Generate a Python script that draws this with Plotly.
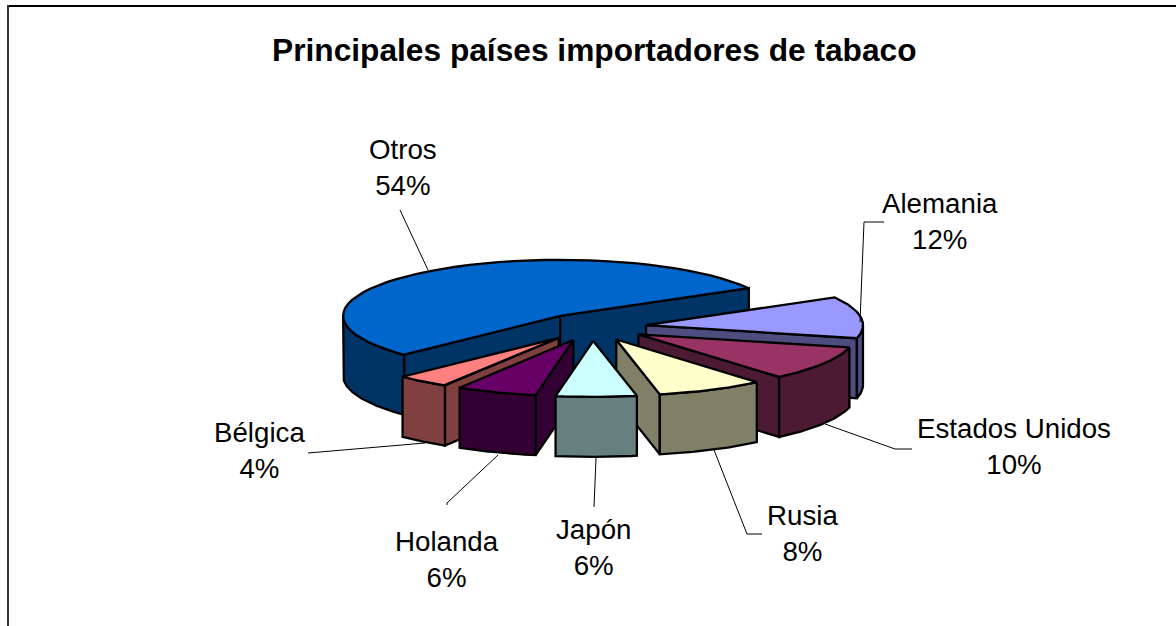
import math
import plotly.graph_objects as go

TITLE = "Principales países importadores de tabaco"
categories = ["Alemania", "Estados Unidos", "Rusia", "Japón", "Holanda", "Bélgica", "Otros"]
values = [12, 10, 8, 6, 6, 4, 54]
pct_labels = ["12%", "10%", "8%", "6%", "6%", "4%", "54%"]
top_colors = ["#9999FF", "#993366", "#FFFFCC", "#CCFFFF", "#660066", "#FF8080", "#0066CC"]
wall_colors = ["#4D4D80", "#4D1A33", "#808066", "#668080", "#330033", "#804040", "#003366"]
draw_order = ["Otros", "Alemania", "Estados Unidos", "Bélgica", "Holanda", "Rusia", "Japón"]

# chart geometry (pixels)
CX, CY = 592.5, 327
RADIUS = 217
SQUASH = 0.258
EXPLODE = 54
DEPTH = 60
START_ANGLE = 29.6

# label centres and leader lines (pixels)
label_pos = {"Alemania": (940, 221), "Estados Unidos": (1014, 446), "Rusia": (802, 533),
             "Japón": (593, 547), "Holanda": (447, 559), "Bélgica": (259, 450), "Otros": (403, 167)}
leaders = {"Alemania": [(884, 222), (864, 222), (860, 322)],
           "Estados Unidos": [(912, 449), (895, 449), (825, 424)],
           "Rusia": [(762, 534), (747, 534), (714, 450)],
           "Japón": [(594, 507), (596, 458)],
           "Holanda": [(447, 505), (447, 503), (498, 455)],
           "Bélgica": [(308, 453), (425, 443)],
           "Otros": [(400, 210), (428, 270)]}


def project(ox, oy, r, deg, drop=0.0):
    a = math.radians(deg)
    return ox + r * math.cos(a), oy - SQUASH * r * math.sin(a) + drop


def arc(ox, oy, a0, a1, drop=0.0, n=48):
    return [project(ox, oy, RADIUS, a0 + (a1 - a0) * i / n, drop) for i in range(n + 1)]


fig = go.Figure()


def poly(pts, color, name):
    fig.add_trace(go.Scatter(x=[p[0] for p in pts] + [pts[0][0]],
                             y=[p[1] for p in pts] + [pts[0][1]],
                             mode="lines", fill="toself", fillcolor=color,
                             line=dict(color="#000000", width=2.3), name=name,
                             hoverinfo="name", showlegend=False))


# slice angles run clockwise from START_ANGLE
total = sum(values)
spans = {}
ang = START_ANGLE
for c, v in zip(categories, values):
    spans[c] = (ang, ang - v / total * 360)
    ang = spans[c][1]

for name in draw_order:
    i = categories.index(name)
    a0, a1 = spans[name]
    mid = (a0 + a1) / 2
    ox, oy = project(CX, CY, EXPLODE, mid)
    apex, apex_low = (ox, oy), (ox, oy + DEPTH)
    wall = wall_colors[i]
    # radial walls facing the viewer
    for edge, normal in ((a0, a0 + 90), (a1, a1 - 90)):
        if math.sin(math.radians(normal)) < 0:
            p, q = project(ox, oy, RADIUS, edge), project(ox, oy, RADIUS, edge, DEPTH)
            poly([apex, p, q, apex_low], wall, name)
    # outer wall: the parts of the arc on the near half of the ellipse
    k = math.floor(a1 / 360)
    for n in range(k - 1, k + 2):
        lo, hi = max(a1, 180 + 360 * n), min(a0, 360 + 360 * n)
        if lo < hi:
            poly(arc(ox, oy, hi, lo) + arc(ox, oy, lo, hi, DEPTH), wall, name)
    # top face
    poly([apex] + arc(ox, oy, a0, a1), top_colors[i], name)

for name, pts in leaders.items():
    fig.add_trace(go.Scatter(x=[p[0] for p in pts], y=[p[1] for p in pts], mode="lines",
                             line=dict(color="#000000", width=1), hoverinfo="skip",
                             showlegend=False))

annotations = [dict(x=594, y=50, text=f"<b>{TITLE}</b>", showarrow=False, xanchor="center",
                    yanchor="middle", font=dict(size=31.7, color="#000000"))]
for c, p in zip(categories, pct_labels):
    x, y = label_pos[c]
    annotations.append(dict(x=x, y=y, text=f"{c}<br>{p}", showarrow=False, xanchor="center",
                            yanchor="middle", align="center",
                            font=dict(size=27.7, color="#000000")))

fig.update_layout(
    width=1176, height=626, autosize=False, margin=dict(l=0, r=0, t=0, b=0, pad=0),
    paper_bgcolor="#FFFFFF", plot_bgcolor="#FFFFFF", showlegend=False,
    font=dict(family="Liberation Sans, Arial, sans-serif"),
    xaxis=dict(range=[0, 1176], visible=False, fixedrange=True),
    yaxis=dict(range=[626, 0], visible=False, fixedrange=True),
    annotations=annotations,
    shapes=[dict(type="line", xref="x", yref="y", x0=8, y0=6, x1=1176, y1=6,
                 line=dict(color="#000000", width=2)),
            dict(type="line", xref="x", yref="y", x0=8, y0=5, x1=8, y1=626,
                 line=dict(color="#333333", width=2))],
)

fig.write_html("out.html", config={"displayModeBar": False},
               post_script="document.body.style.margin='0';document.documentElement.style.overflow='hidden';")
